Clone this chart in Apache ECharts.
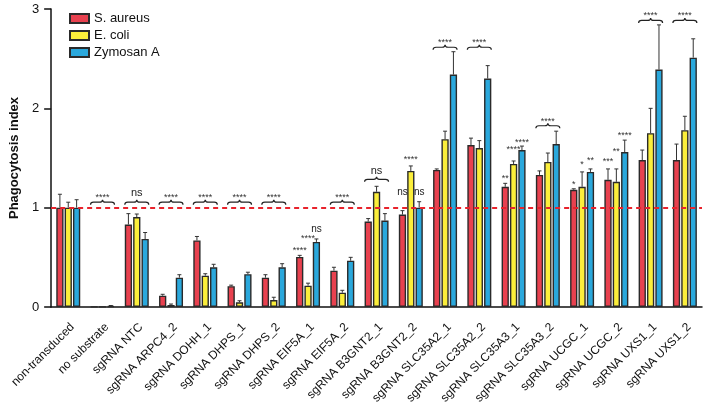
<!DOCTYPE html>
<html>
<head>
<meta charset="utf-8">
<script src="https://cdn.jsdelivr.net/npm/echarts@6/dist/echarts.min.js"></script>
<style>html,body{margin:0;padding:0;background:#fff}#c{width:708px;height:410px}</style>
</head>
<body>
<div id="c"></div>
<script>
const categories = ['non-transduced','no substrate','sgRNA NTC','sgRNA ARPC4_2','sgRNA DOHH_1','sgRNA DHPS_1','sgRNA DHPS_2','sgRNA EIF5A_1','sgRNA EIF5A_2','sgRNA B3GNT2_1','sgRNA B3GNT2_2','sgRNA SLC35A2_1','sgRNA SLC35A2_2','sgRNA SLC35A3_1','sgRNA SLC35A3_2','sgRNA UCGC_1','sgRNA UCGC_2','sgRNA UXS1_1','sgRNA UXS1_2'];
const seriesNames = ['S. aureus','E. coli','Zymosan A'];
const sAureus = [1.0, 0.003, 0.83, 0.114, 0.67, 0.21, 0.295, 0.504, 0.366, 0.86, 0.93, 1.38, 1.63, 1.21, 1.33, 1.18, 1.28, 1.48, 1.48];
const sAureusErr = [0.135, 0, 0.11, 0.014, 0.04, 0.01, 0.03, 0.016, 0.034, 0.03, 0.04, 0.01, 0.07, 0.035, 0.04, 0.01, 0.11, 0.10, 0.16];
const eColi = [1.0, 0.003, 0.906, 0.02, 0.315, 0.047, 0.07, 0.215, 0.144, 1.16, 1.37, 1.69, 1.60, 1.44, 1.46, 1.21, 1.26, 1.75, 1.78];
const eColiErr = [0.055, 0, 0.03, 0.01, 0.02, 0.016, 0.028, 0.025, 0.024, 0.055, 0.05, 0.08, 0.075, 0.03, 0.09, 0.15, 0.13, 0.25, 0.14];
const zymosan = [1.0, 0.01, 0.685, 0.295, 0.40, 0.33, 0.40, 0.655, 0.466, 0.87, 1.00, 2.34, 2.30, 1.58, 1.64, 1.36, 1.56, 2.39, 2.51];
const zymosanErr = [0.08, 0.005, 0.065, 0.03, 0.03, 0.02, 0.036, 0.03, 0.034, 0.07, 0.06, 0.23, 0.13, 0.04, 0.13, 0.03, 0.12, 0.45, 0.19];
const yTicks = [0, 1, 2, 3];
const referenceLevel = 1;
// group brackets: [category index, bracket peak value, text]
const groupBrackets = [
  [1, 1.08, '****'], [2, 1.08, 'ns'], [3, 1.08, '****'], [4, 1.08, '****'], [5, 1.08, '****'],
  [6, 1.08, '****'], [8, 1.08, '****'], [9, 1.31, 'ns'], [11, 2.64, '****'], [12, 2.64, '****'],
  [14, 1.85, '****'], [17, 2.91, '****'], [18, 2.91, '****']
];
// single-bar marks: [category index, series index, value, text]
const barMarks = [
  [7, 0, 0.584, '****'], [7, 1, 0.705, '****'], [7, 2, 0.775, 'ns'],
  [10, 0, 1.148, 'ns'], [10, 1, 1.50, '****'], [10, 2, 1.148, 'ns'],
  [13, 0, 1.31, '**'], [13, 1, 1.60, '****'], [13, 2, 1.67, '****'],
  [15, 0, 1.25, '*'], [15, 1, 1.45, '*'], [15, 2, 1.49, '**'],
  [16, 0, 1.48, '***'], [16, 1, 1.58, '**'], [16, 2, 1.74, '****']
];

const colors = ['#e8414f', '#fbee3b', '#2aa8dc'];
const FONT = "'Liberation Sans', Arial, sans-serif";
const CAT_GAP = 0.3, BAR_GAP = 0.15;

function barOffset(band, si) {
  const bw = band * (1 - CAT_GAP) / (3 + 2 * BAR_GAP);
  return (si - 1) * bw * (1 + BAR_GAP);
}
function textY(y, txt) { return txt === 'ns' ? y - 0.8 : y + 1.8; }
function textStyle(txt, x, y, nsSize) {
  return { text: txt, x: x, y: textY(y, txt), align: 'center', verticalAlign: 'middle',
    fill: txt === 'ns' ? '#222' : '#333', font: (txt === 'ns' ? nsSize + 'px ' : '9px ') + FONT };
}

const means = [sAureus, eColi, zymosan];
const errs = [sAureusErr, eColiErr, zymosanErr];

const series = [];
seriesNames.forEach((name, si) => {
  const s = {
    name: name, type: 'bar', data: means[si],
    barCategoryGap: (CAT_GAP * 100) + '%', barGap: (BAR_GAP * 100) + '%',
    itemStyle: { color: colors[si], borderColor: '#2a2a2a', borderWidth: 1.4 },
    z: 2
  };
  if (si === 0) {
    s.markLine = { silent: true, symbol: 'none', label: { show: false },
      lineStyle: { color: '#e8232c', type: [5, 4], width: 2 },
      data: [{ yAxis: referenceLevel }], z: 5 };
  }
  series.push(s);
});
seriesNames.forEach((name, si) => {
  series.push({
    type: 'custom', name: name + ' err', z: 3,
    data: means[si].map((v, i) => [i, v, errs[si][i]]),
    renderItem: function (params, api) {
      const cat = api.value(0), v = api.value(1), e = api.value(2);
      if (!e) return null;
      const band = api.size([1, 0])[0];
      const p0 = api.coord([cat, v]);
      const p1 = api.coord([cat, v + e]);
      const x = p0[0] + barOffset(band, si);
      const st = { stroke: '#333', lineWidth: 1 };
      return { type: 'group', children: [
        { type: 'line', shape: { x1: x, y1: p0[1], x2: x, y2: p1[1] }, style: st },
        { type: 'line', shape: { x1: x - 2, y1: p1[1], x2: x + 2, y2: p1[1] }, style: st }
      ]};
    }
  });
});
series.push({
  type: 'custom', name: 'brackets', z: 4,
  data: groupBrackets,
  renderItem: function (params, api) {
    const c = api.coord([api.value(0), api.value(1)]);
    const band = api.size([1, 0])[0];
    const hw = band * (1 - CAT_GAP) / 2;
    const h = 5, x = c[0], y = c[1], m = y + h / 2;
    const d = 'M' + (x - hw) + ',' + (y + h) + ' Q' + (x - hw) + ',' + m + ' ' + (x - hw + 3) + ',' + m +
      ' L' + (x - 3) + ',' + m + ' Q' + x + ',' + m + ' ' + x + ',' + y +
      ' Q' + x + ',' + m + ' ' + (x + 3) + ',' + m + ' L' + (x + hw - 3) + ',' + m +
      ' Q' + (x + hw) + ',' + m + ' ' + (x + hw) + ',' + (y + h);
    const txt = groupBrackets[params.dataIndex][2];
    return { type: 'group', children: [
      { type: 'path', shape: { pathData: d }, style: { fill: null, stroke: '#222', lineWidth: 1.2 } },
      { type: 'text', style: textStyle(txt, x, y - (txt === 'ns' ? 5.5 : 4), 11) }
    ]};
  }
});
series.push({
  type: 'custom', name: 'marks', z: 4,
  data: barMarks,
  renderItem: function (params, api) {
    const band = api.size([1, 0])[0];
    const c = api.coord([api.value(0), api.value(2)]);
    const txt = barMarks[params.dataIndex][3];
    const x = c[0] + barOffset(band, api.value(1));
    return { type: 'text', style: textStyle(txt, x, c[1], 10) };
  }
});

const chart = echarts.init(document.getElementById('c'), null, { renderer: 'canvas' });
chart.setOption({
  animation: false,
  backgroundColor: '#fff',
  textStyle: { fontFamily: FONT },
  grid: { left: 47, right: 6, top: 9, bottom: 103, containLabel: false },
  legend: {
    data: seriesNames, orient: 'vertical', left: 64, top: 7,
    itemWidth: 19, itemHeight: 9, itemGap: 4, icon: 'rect',
    textStyle: { fontSize: 13, color: '#111', fontFamily: FONT }
  },
  xAxis: {
    type: 'category', data: categories,
    axisLine: { lineStyle: { color: '#111', width: 1.5 } },
    axisTick: { alignWithLabel: true, length: 6, lineStyle: { color: '#111', width: 1.5 } },
    axisLabel: { rotate: 45, interval: 0, fontSize: 12, color: '#111', margin: 14,
      verticalAlign: 'top', fontFamily: FONT }
  },
  yAxis: {
    type: 'value', min: yTicks[0], max: yTicks[yTicks.length - 1], interval: 1,
    name: 'Phagocytosis index', nameLocation: 'middle', nameGap: 22,
    nameTextStyle: { fontSize: 13, fontWeight: 'bold', color: '#111', fontFamily: FONT },
    axisLine: { show: true, lineStyle: { color: '#111', width: 1.5 } },
    axisTick: { show: true, length: 7, lineStyle: { color: '#111', width: 1.5 } },
    axisLabel: { fontSize: 13, color: '#111', margin: 12, fontFamily: FONT },
    splitLine: { show: false }
  },
  series: series
});
</script>
</body>
</html>
